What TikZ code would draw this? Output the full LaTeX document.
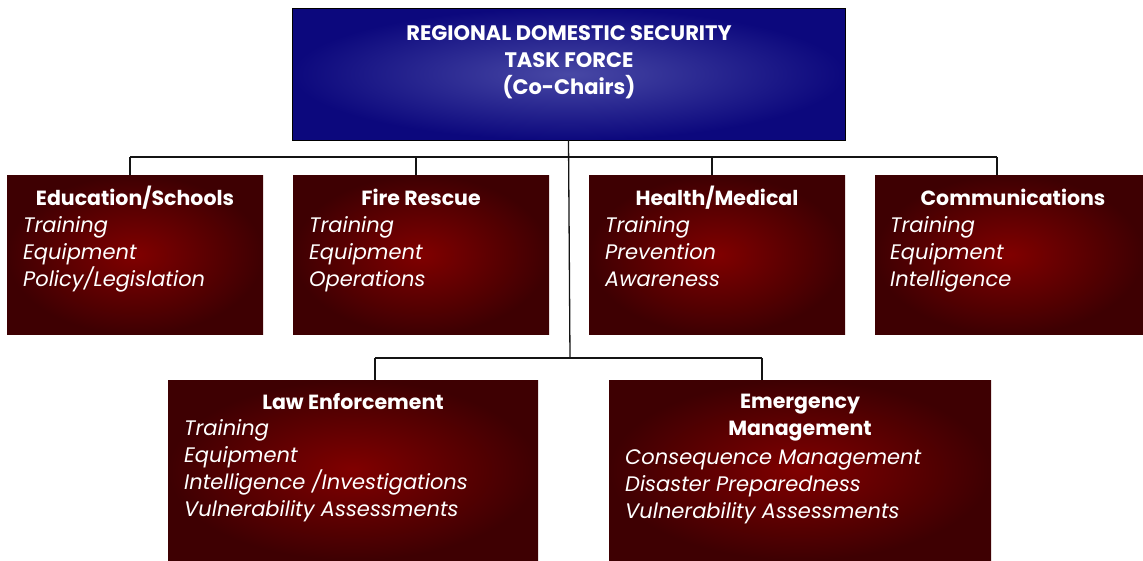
\documentclass[tikz,border=0pt]{standalone}
\usepackage{fontspec}
\setmainfont{Poppins}
\begin{document}
\begin{tikzpicture}[x=1pt,y=-1pt,
  redbox/.style={anchor=north west, inner sep=0pt, outer sep=0pt, inner color={rgb,255:red,128;green,0;blue,0}, outer color={rgb,255:red,62;green,0;blue,2}},
  bluebox/.style={anchor=north west, inner sep=0pt, outer sep=0pt, draw=black, line width=1pt, inner color={rgb,255:red,72;green,72;blue,165}, outer color={rgb,255:red,12;green,8;blue,125}},
  conn/.style={draw={rgb,255:red,20;green,20;blue,20}, line width=1.3pt},
  ttl/.style={font=\fontsize{20.5}{27}\selectfont\bfseries, text=white},
  ttlone/.style={ttl, text height=15pt, text depth=5pt},
  itm/.style={font=\fontsize{21}{27}\selectfont\itshape, text=white}]
\useasboundingbox (0,0) rectangle (1143,560);
% top box
\node[bluebox, minimum width=553pt, minimum height=132pt] (top) at (292,8) {};
\node[ttl, align=center, anchor=north, font=\fontsize{21}{27}\selectfont\bfseries] (toptxt) at (569,22) {REGIONAL DOMESTIC SECURITY\\TASK FORCE\\(Co-Chairs)};
% boxes
\node[redbox, minimum width=256pt, minimum height=159pt] (edu) at (7,175) {};
\node[redbox, minimum width=256pt, minimum height=159pt] (fire) at (293,175) {};
\node[redbox, minimum width=256pt, minimum height=159pt] (health) at (589,175) {};
\node[redbox, minimum width=268pt, minimum height=159pt] (comm) at (875,175) {};
\node[redbox, minimum width=370pt, minimum height=180pt] (law) at (168,380) {};
\node[redbox, minimum width=382pt, minimum height=180pt] (emerg) at (609,380) {};
% titles
\node[ttlone, anchor=north] (eduT) at (135,187) {Education/Schools};
\node[ttlone, anchor=north] (fireT) at (421,187) {Fire Rescue};
\node[ttlone, anchor=north] (healthT) at (717,187) {Health/Medical};
\node[ttlone, anchor=north] (commT) at (1013,187) {Communications};
\node[ttlone, anchor=north] (lawT) at (353,391) {Law Enforcement};
\node[ttl, anchor=north, align=center] (emergT) at (800,391) {Emergency\\Management};
% items
\node[itm, anchor=north west, align=left, inner sep=0pt] (eduI) at (23,216) {Training\\Equipment\\Policy/Legislation};
\node[itm, anchor=north west, align=left, inner sep=0pt] (fireI) at (309,216) {Training\\Equipment\\Operations};
\node[itm, anchor=north west, align=left, inner sep=0pt] (healthI) at (605,216) {Training\\Prevention\\Awareness};
\node[itm, anchor=north west, align=left, inner sep=0pt] (commI) at (890,216) {Training\\Equipment\\Intelligence};
\node[itm, anchor=north west, align=left, inner sep=0pt] (lawI) at (184,419) {Training\\Equipment\\Intelligence /Investigations\\Vulnerability Assessments};
\node[itm, anchor=north west, align=left, inner sep=0pt] (emergI) at (625,449) {Consequence Management\\Disaster Preparedness\\Vulnerability Assessments};
% connectors
\coordinate (hubA) at (570,157);
\coordinate (hubB) at (570,358);
\coordinate (cEdu) at (130,157);
\coordinate (cFire) at (416,157);
\coordinate (cHealth) at (712,157);
\coordinate (cComm) at (997,157);
\coordinate (cLaw) at (375,358);
\coordinate (cEmerg) at (762,358);
\draw[conn] (top.south) -- (hubB);
\draw[conn] (cEdu) -- (cComm);
\draw[conn] (cLaw) -- (cEmerg);
\draw[conn] (cEdu) -- (cEdu |- edu.north);
\draw[conn] (cFire) -- (cFire |- fire.north);
\draw[conn] (cHealth) -- (cHealth |- health.north);
\draw[conn] (cComm) -- (cComm |- comm.north);
\draw[conn] (cLaw) -- (cLaw |- law.north);
\draw[conn] (cEmerg) -- (cEmerg |- emerg.north);
\end{tikzpicture}
\end{document}
